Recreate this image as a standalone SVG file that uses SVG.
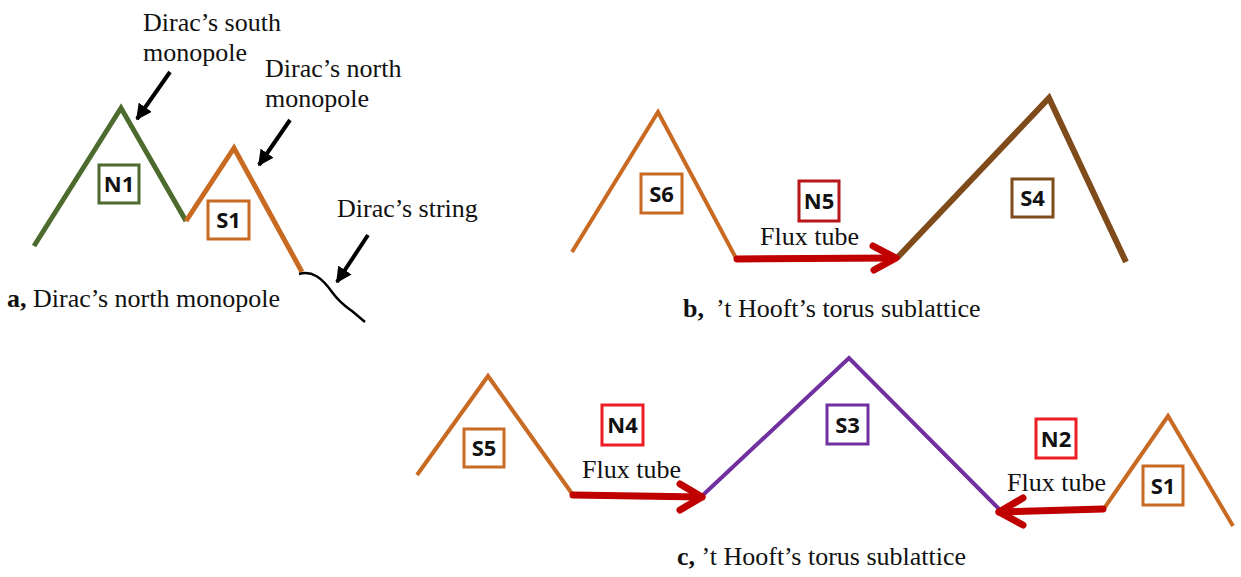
<svg xmlns="http://www.w3.org/2000/svg" width="1241" height="577" viewBox="0 0 1241 577">
<defs>
<style>
.lbl{font-family:"Liberation Serif","Times New Roman",serif;font-size:26px;fill:#111}
.bx{fill:#fff;stroke-width:3}
.bt{font-family:"Open Sans","Liberation Sans",sans-serif;font-weight:700;font-size:22px;fill:#111;text-anchor:middle}
.ln{fill:none;stroke-linejoin:miter;stroke-linecap:butt}
.flux{fill:none;stroke:#c00000;stroke-width:7;stroke-linecap:round;stroke-linejoin:round}
.ptr{stroke:#000;stroke-width:4;fill:none}
</style>
<marker id="ah" viewBox="0 0 10 10" refX="9" refY="5" markerWidth="4" markerHeight="4" orient="auto" markerUnits="strokeWidth">
<path d="M0,0 L10,5 L0,10 z" fill="#000"/>
</marker>
</defs>
<rect width="1241" height="577" fill="#fff"/>

<!-- mountains -->
<g id="mountains">
<polyline class="ln" points="34,246 121,108 186,221" stroke="#4e6b2f" stroke-width="5"/>
<polyline class="ln" points="186,221 234,148 302,272" stroke="#c96a22" stroke-width="5"/>
<polyline class="ln" points="572,252 658,112 737,260" stroke="#c96a22" stroke-width="4"/>
<polyline class="ln" points="897,258 1049,98 1126,262" stroke="#7f4b1b" stroke-width="6"/>
<polyline class="ln" points="417,475 488,376 573,495" stroke="#c96a22" stroke-width="4"/>
<polyline class="ln" points="703,495 849,358 1000,510" stroke="#7030a0" stroke-width="4"/>
<polyline class="ln" points="1103,510 1168,416 1233,526" stroke="#c96a22" stroke-width="4"/>
<path d="M299,274 C312,270 322,278 332,292 C340,303 345,306 352,311 L365,322" fill="none" stroke="#000" stroke-width="2.5"/>
</g>

<!-- connectors -->
<g id="connectors">
<line class="ptr" x1="170" y1="72" x2="137" y2="119" marker-end="url(#ah)"/>
<line class="ptr" x1="290" y1="120" x2="259" y2="165" marker-end="url(#ah)"/>
<line class="ptr" x1="368" y1="235" x2="337" y2="282" marker-end="url(#ah)"/>
<g id="flux-b">
<path class="flux" d="M737,259 L895,258"/>
<path class="flux" d="M873,246 L896,258 L874,270"/>
</g>
<g id="flux-c1">
<path class="flux" d="M573,495 L702,497"/>
<path class="flux" d="M680,484 L702,497 L680,510"/>
</g>
<g id="flux-c2">
<path class="flux" d="M1103,509 L999,512"/>
<path class="flux" d="M1023,498 L999,512 L1023,525"/>
</g>
</g>

<!-- node boxes -->
<g id="N1"><rect class="bx" x="99" y="165" width="40" height="38" stroke="#4e6b2f"/><text class="bt" x="119" y="192">N1</text></g>
<g id="S1a"><rect class="bx" x="208" y="201" width="41" height="38" stroke="#c96a22"/><text class="bt" x="228.5" y="228">S1</text></g>
<g id="S6"><rect class="bx" x="641" y="174" width="41" height="39" stroke="#c96a22"/><text class="bt" x="661.5" y="201.5">S6</text></g>
<g id="N5"><rect class="bx" x="799" y="181" width="40" height="40" stroke="#b8161b"/><text class="bt" x="819" y="209">N5</text></g>
<g id="S4"><rect class="bx" x="1012" y="179" width="41" height="38" stroke="#7f4b1b"/><text class="bt" x="1032.5" y="206">S4</text></g>
<g id="S5"><rect class="bx" x="464" y="429" width="40" height="38" stroke="#c96a22"/><text class="bt" x="484" y="456">S5</text></g>
<g id="N4"><rect class="bx" x="602" y="405" width="41" height="40" stroke="#ee1c25"/><text class="bt" x="622.5" y="433">N4</text></g>
<g id="S3"><rect class="bx" x="827" y="405" width="41" height="39" stroke="#7030a0"/><text class="bt" x="847.5" y="432.5">S3</text></g>
<g id="N2"><rect class="bx" x="1036" y="419" width="40" height="39" stroke="#ee1c25"/><text class="bt" x="1056" y="446.5">N2</text></g>
<g id="S1c"><rect class="bx" x="1143" y="466" width="40" height="39" stroke="#c96a22"/><text class="bt" x="1163" y="493.5">S1</text></g>

<!-- labels -->
<g id="labels">
<text class="lbl" x="143" y="31">Dirac’s south</text>
<text class="lbl" x="143" y="61">monopole</text>
<text class="lbl" x="265" y="77">Dirac’s north</text>
<text class="lbl" x="265" y="107">monopole</text>
<text class="lbl" x="337" y="217">Dirac’s string</text>
<text class="lbl" x="7" y="307"><tspan font-weight="700">a,</tspan> Dirac’s north monopole</text>
<text class="lbl" x="760" y="245">Flux tube</text>
<text class="lbl" x="683" y="317"><tspan font-weight="700">b,</tspan><tspan dx="12">’t Hooft’s torus sublattice</tspan></text>
<text class="lbl" x="582" y="478">Flux tube</text>
<text class="lbl" x="1007" y="491">Flux tube</text>
<text class="lbl" x="677" y="565"><tspan font-weight="700">c,</tspan> ’t Hooft’s torus sublattice</text>
</g>
</svg>
